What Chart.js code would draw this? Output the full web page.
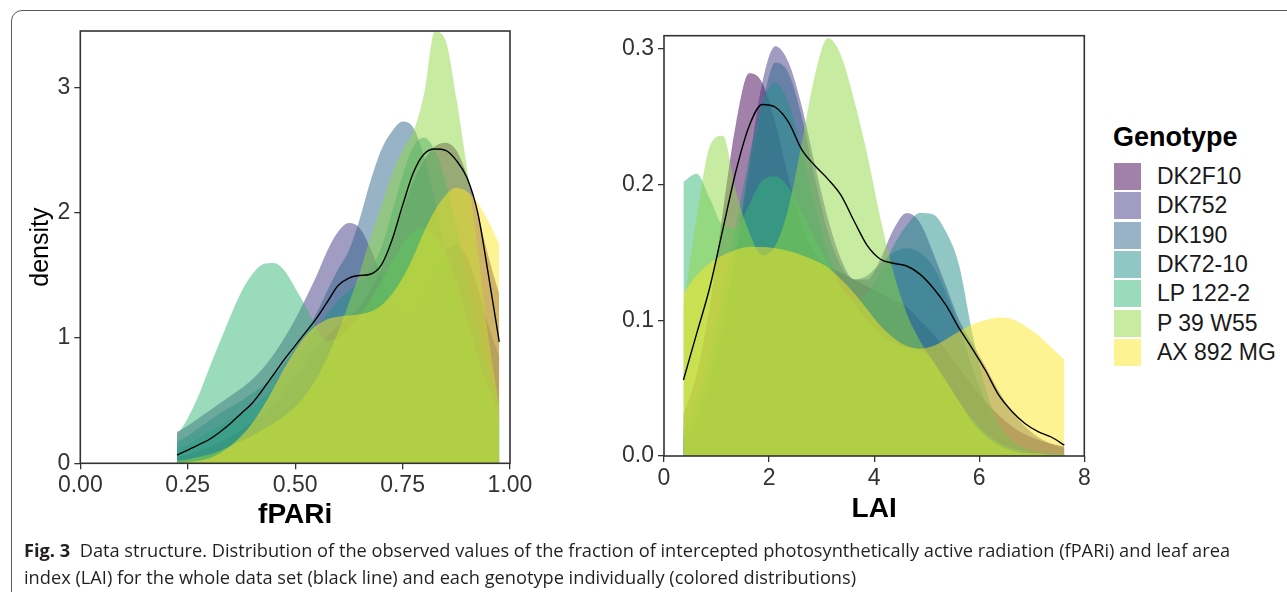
<!DOCTYPE html>
<html>
<head>
<meta charset="utf-8">
<script src="https://cdn.jsdelivr.net/npm/chart.js@4.4.0/dist/chart.umd.min.js"></script>
<style>
html,body{margin:0;padding:0;background:#fff;width:1287px;height:592px;overflow:hidden;position:relative;}
#frame{position:absolute;left:11px;top:10px;width:1320px;height:660px;border:1.5px solid #5a5a5a;border-radius:11px;box-sizing:border-box;}
#w1{position:absolute;left:0;top:0;width:560px;height:540px;}
#w2{position:absolute;left:590px;top:0;width:520px;height:540px;}
.lg-title{position:absolute;left:1113px;top:121px;font:bold 27px "Liberation Sans",Arial,sans-serif;color:#000;white-space:nowrap;line-height:32px;}
.lg-key{position:absolute;left:1114px;width:27px;height:27px;}
.lg-lab{position:absolute;left:1157px;font:23px "Liberation Sans",Arial,sans-serif;color:#1a1a1a;white-space:nowrap;line-height:27px;height:27px;}
#caption{position:absolute;left:24px;top:537px;font-family:"Open Sans",sans-serif;font-size:17px;color:#231f20;white-space:nowrap;}
#caption div{line-height:27px;white-space:nowrap;}
#caption span{display:inline-block;}
</style>
</head>
<body>
<div id="frame"></div>
<div id="w1"><canvas id="c1" width="560" height="540"></canvas></div>
<div id="w2"><canvas id="c2" width="520" height="540"></canvas></div>
<div id="legend"></div>
<div id="caption">
  <div><span id="cap1"><b>Fig. 3</b>&nbsp;&nbsp;Data structure. Distribution of the observed values of the fraction of intercepted photosynthetically active radiation (fPARi) and leaf area</span></div>
  <div><span id="cap2">index (LAI) for the whole data set (black line) and each genotype individually (colored distributions)</span></div>
</div>
<script>
// ---------- categories ----------
const genotypes = ['DK2F10','DK752','DK190','DK72-10','LP 122-2','P 39 W55','AX 892 MG'];

// ---------- fPARi panel ----------
const fparX = [0.225,0.25,0.275,0.3,0.325,0.35,0.375,0.4,0.425,0.45,0.475,0.5,0.525,0.55,0.575,0.6,0.625,0.65,0.675,0.7,0.725,0.75,0.775,0.8,0.825,0.85,0.875,0.9,0.925,0.95,0.975];
const fparAll     = [0.066,0.106,0.147,0.19,0.25,0.32,0.40,0.48,0.59,0.71,0.83,0.94,1.05,1.16,1.29,1.42,1.48,1.50,1.51,1.58,1.78,2.06,2.32,2.47,2.51,2.50,2.42,2.28,2.0,1.5,0.97];
const fparDK2F10  = [0.05,0.07,0.1,0.13,0.17,0.22,0.27,0.33,0.4,0.48,0.57,0.68,0.8,0.92,1.02,1.1,1.17,1.25,1.38,1.55,1.78,2.02,2.25,2.42,2.53,2.56,2.5,2.3,2.0,1.65,1.35];
const fparDK752   = [0.25,0.3,0.36,0.42,0.48,0.54,0.6,0.67,0.76,0.87,1.0,1.15,1.32,1.5,1.7,1.85,1.92,1.88,1.72,1.5,1.3,1.2,1.22,1.35,1.55,1.7,1.75,1.65,1.4,1.1,0.85];
const fparDK190   = [0.17,0.22,0.28,0.34,0.4,0.45,0.5,0.56,0.62,0.7,0.8,0.92,1.05,1.2,1.38,1.55,1.7,1.95,2.25,2.5,2.65,2.73,2.68,2.45,2.1,1.7,1.3,0.95,0.65,0.45,0.35];
const fparDK7210  = [0.12,0.15,0.2,0.25,0.3,0.35,0.4,0.45,0.52,0.6,0.7,0.82,0.95,1.08,1.2,1.3,1.38,1.45,1.55,1.72,2.0,2.3,2.53,2.6,2.5,2.25,1.9,1.5,1.1,0.75,0.5];
const fparLP1222  = [0.22,0.36,0.54,0.76,0.97,1.18,1.37,1.51,1.59,1.60,1.54,1.40,1.25,1.08,0.98,1.0,1.08,1.18,1.3,1.45,1.6,1.75,1.85,1.88,1.82,1.68,1.45,1.15,0.85,0.6,0.4];
const fparP39W55  = [0.02,0.03,0.05,0.07,0.1,0.14,0.18,0.22,0.27,0.32,0.38,0.45,0.55,0.68,0.85,1.05,1.28,1.52,1.8,2.05,2.3,2.5,2.65,2.95,3.45,3.38,2.92,2.35,1.7,1.0,0.45];
const fparAX892MG = [0.0,0.01,0.02,0.04,0.08,0.14,0.22,0.32,0.45,0.6,0.76,0.9,1.02,1.1,1.15,1.17,1.18,1.19,1.21,1.26,1.35,1.48,1.65,1.85,2.02,2.14,2.2,2.17,2.08,1.93,1.75];
const fparXTicks = [0, 0.25, 0.5, 0.75, 1];
const fparXTickLabels = ['0.00','0.25','0.50','0.75','1.00'];
const fparYTicks = [0, 1, 2, 3];
const fparYTickLabels = ['0','1','2','3'];

// ---------- LAI panel ----------
const laiX = [0.37,0.62,0.87,1.12,1.37,1.62,1.87,2.12,2.37,2.62,2.87,3.12,3.37,3.62,3.87,4.12,4.37,4.62,4.87,5.12,5.37,5.62,5.87,6.12,6.37,6.62,6.87,7.12,7.37,7.62];
const laiAll     = [0.056,0.09,0.124,0.167,0.21,0.243,0.259,0.257,0.246,0.226,0.214,0.204,0.192,0.173,0.155,0.145,0.142,0.14,0.134,0.124,0.111,0.094,0.079,0.063,0.045,0.033,0.024,0.018,0.014,0.008];
const laiDK2F10  = [0.03,0.06,0.11,0.18,0.245,0.282,0.275,0.245,0.205,0.17,0.15,0.14,0.135,0.13,0.125,0.12,0.115,0.11,0.1,0.09,0.078,0.065,0.052,0.04,0.03,0.022,0.016,0.012,0.009,0.007];
const laiDK752   = [0.01,0.025,0.05,0.09,0.15,0.215,0.275,0.302,0.29,0.258,0.215,0.175,0.145,0.13,0.13,0.145,0.167,0.179,0.172,0.15,0.125,0.1,0.083,0.066,0.048,0.033,0.022,0.014,0.009,0.006];
const laiDK190   = [0.015,0.03,0.06,0.1,0.15,0.205,0.258,0.29,0.282,0.25,0.205,0.165,0.14,0.13,0.133,0.142,0.15,0.153,0.15,0.14,0.12,0.095,0.065,0.04,0.022,0.012,0.006,0.003,0.002,0.001];
const laiDK7210  = [0.02,0.04,0.075,0.12,0.17,0.22,0.26,0.275,0.26,0.225,0.185,0.15,0.125,0.115,0.12,0.135,0.155,0.17,0.179,0.178,0.165,0.14,0.09,0.05,0.025,0.012,0.006,0.003,0.002,0.001];
const laiLP1222  = [0.202,0.208,0.19,0.17,0.168,0.185,0.203,0.206,0.198,0.18,0.16,0.142,0.125,0.112,0.1,0.09,0.083,0.08,0.078,0.07,0.055,0.04,0.027,0.017,0.01,0.006,0.003,0.001,0.001,0.001];
const laiP39W55  = [0.11,0.175,0.228,0.236,0.195,0.165,0.148,0.155,0.183,0.23,0.28,0.308,0.295,0.262,0.222,0.175,0.135,0.105,0.085,0.07,0.055,0.04,0.025,0.015,0.008,0.004,0.002,0.002,0.001,0.001];
const laiAX892MG = [0.12,0.133,0.142,0.148,0.152,0.154,0.154,0.153,0.151,0.148,0.144,0.139,0.13,0.12,0.108,0.096,0.087,0.081,0.079,0.081,0.086,0.092,0.097,0.1,0.102,0.101,0.096,0.089,0.08,0.071];
const laiXTicks = [0, 2, 4, 6, 8];
const laiXTickLabels = ['0','2','4','6','8'];
const laiYTicks = [0, 0.1, 0.2, 0.3];
const laiYTickLabels = ['0.0','0.1','0.2','0.3'];

// ---------- styling ----------
const viridis = ['68,1,84','68,58,131','49,104,142','33,144,140','53,183,121','143,215,68','253,231,37'];
const FAM = '"Liberation Sans", Arial, sans-serif';
const TICK_COLOR = '#333';

const fparSeries = [fparDK2F10, fparDK752, fparDK190, fparDK7210, fparLP1222, fparP39W55, fparAX892MG];
const laiSeries  = [laiDK2F10, laiDK752, laiDK190, laiDK7210, laiLP1222, laiP39W55, laiAX892MG];

const framePlugin = {
  id: 'panelFrame',
  afterDatasetsDraw(chart) {
    const {ctx, chartArea: a} = chart;
    ctx.save();
    ctx.strokeStyle = '#333';
    ctx.lineWidth = 1.6;
    ctx.strokeRect(a.left, a.top, a.right - a.left, a.bottom - a.top);
    ctx.restore();
  }
};

function buildDatasets(xs, series, all) {
  const ds = series.map((ys, k) => ({
    label: genotypes[k],
    data: xs.map((x, i) => ({x: x, y: ys[i]})),
    backgroundColor: 'rgba(' + viridis[k] + ',0.5)',
    borderColor: 'rgba(0,0,0,0)',
    borderWidth: 0,
    pointRadius: 0,
    fill: 'origin',
    cubicInterpolationMode: 'monotone',
    order: 7 - k
  }));
  ds.push({
    label: 'All',
    data: xs.map((x, i) => ({x: x, y: all[i]})),
    borderColor: '#000',
    borderWidth: 1.4,
    pointRadius: 0,
    fill: false,
    cubicInterpolationMode: 'monotone',
    order: 0
  });
  return ds;
}

function makeChart(id, cfg) {
  const grid = {drawOnChartArea: false, drawTicks: true, tickLength: 6, color: '#333', lineWidth: 1.3};
  return new Chart(document.getElementById(id), {
    type: 'line',
    data: {datasets: buildDatasets(cfg.xs, cfg.series, cfg.all)},
    plugins: [framePlugin],
    options: {
      responsive: false,
      animation: false,
      events: [],
      layout: {padding: cfg.padding},
      plugins: {legend: {display: false}, tooltip: {enabled: false}},
      scales: {
        x: {
          type: 'linear', min: cfg.xmin, max: cfg.xmax,
          afterBuildTicks: s => { s.ticks = cfg.xTicks.map(v => ({value: v})); },
          afterFit: s => { s.height = cfg.xHeight; },
          grid: grid,
          border: {display: false},
          ticks: {font: {family: FAM, size: 23}, color: TICK_COLOR, padding: 3, maxRotation: 0, autoSkip: false,
                  callback: (v, i) => cfg.xLabels[i]},
          title: {display: true, text: cfg.xTitle, color: '#000',
                  font: {family: FAM, size: 28, weight: 'bold'}, padding: {top: 0, bottom: cfg.xTitlePad}}
        },
        y: {
          type: 'linear', min: 0, max: cfg.ymax,
          afterBuildTicks: s => { s.ticks = cfg.yTicks.map(v => ({value: v})); },
          afterFit: s => { s.width = cfg.yWidth; },
          grid: grid,
          border: {display: false},
          ticks: {font: {family: FAM, size: 23}, color: TICK_COLOR, padding: 4,
                  callback: (v, i) => cfg.yLabels[i]},
          title: {display: !!cfg.yTitle, text: cfg.yTitle || '', color: '#000',
                  font: {family: FAM, size: 25}, padding: {top: 26, bottom: 0}}
        }
      }
    }
  });
}

makeChart('c1', {
  xs: fparX, series: fparSeries, all: fparAll,
  xmin: 0, xmax: 1, ymax: 3.453,
  xTicks: fparXTicks, xLabels: fparXTickLabels, yTicks: fparYTicks, yLabels: fparYTickLabels,
  padding: {top: 31, right: 50, left: 0, bottom: 0},
  xHeight: 76.7, yWidth: 80.3, xTitle: 'fPARi', xTitlePad: 8, yTitle: 'density'
});

makeChart('c2', {
  xs: laiX, series: laiSeries, all: laiAll,
  xmin: 0, xmax: 8, ymax: 0.3097,
  xTicks: laiXTicks, xLabels: laiXTickLabels, yTicks: laiYTicks, yLabels: laiYTickLabels,
  padding: {top: 35.7, right: 25.7, left: 0, bottom: 0},
  xHeight: 84, yWidth: 74, xTitle: 'LAI', xTitlePad: 14, yTitle: null
});

// ---------- legend ----------
(function () {
  const lg = document.getElementById('legend');
  let html = '<div class="lg-title">Genotype</div>';
  genotypes.forEach((g, k) => {
    const top = 163 + k * 29.3;
    html += '<div class="lg-key" style="top:' + top + 'px;background:rgba(' + viridis[k] + ',0.5)"></div>';
    html += '<div class="lg-lab" style="top:' + top + 'px">' + g + '</div>';
  });
  lg.innerHTML = html;
})();

// ---------- caption fit ----------
function fitCaption() {
  const cap = document.getElementById('caption');
  cap.style.fontSize = '17px';
  const w = document.getElementById('cap1').getBoundingClientRect().width;
  if (w > 0) cap.style.fontSize = (17 * 1207 / w) + 'px';
}
fitCaption();
if (document.fonts && document.fonts.ready) document.fonts.ready.then(fitCaption);
</script>
</body>
</html>
